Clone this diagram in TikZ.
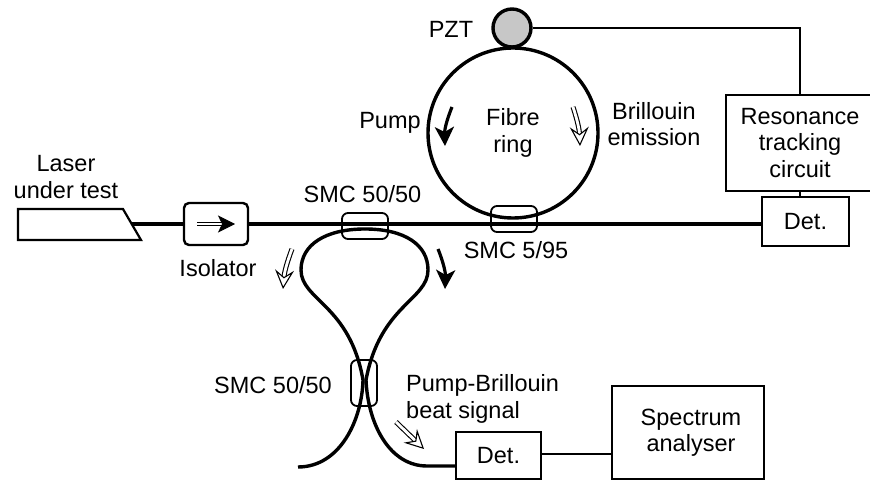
\documentclass[tikz,border=0pt]{standalone}
\usepackage{fontspec}
\setmainfont{Liberation Sans}
\usetikzlibrary{arrows.meta}

\begin{document}
\begin{tikzpicture}[
    x=1pt, y=-1pt,
    >=Stealth,
    txt/.style={inner sep=0pt, align=center, font=\fontsize{23.5}{26.5}\selectfont},
    box/.style={txt, rectangle, draw, line width=2.4pt},
    coupler/.style={rectangle, draw, rounded corners=6pt, line width=1.8pt, inner sep=0pt},
    fibre/.style={line width=3.4pt},
    wire/.style={line width=2.2pt},
    pumparrow/.style={-{Stealth[length=19pt, width=19pt, inset=5pt]}, line width=3.2pt},
    brillarrow/.style={-{Stealth[length=19pt, width=19pt, inset=7pt, open, fill=white, line width=1.1pt]},
                       line width=1.1pt, double=white, double distance=2.8pt}
]
  \useasboundingbox (0, 0) rectangle (870, 481);

  % Ring and piezo
  \node[txt, circle, draw, line width=3.4pt, minimum size=170pt] (ring) at (513, 133) {Fibre\\ring};
  \node[circle, draw, fill=black!22, line width=3.4pt, minimum size=38pt, inner sep=0pt] (pzt) at (512, 28) {};

  % Laser
  \draw[line width=2.2pt] (18, 209) -- (123, 209) -- (141, 240) -- (18, 240) -- cycle;
  \coordinate (laserend) at (132, 224);

  % Boxes
  \node[box, rounded corners=5pt, minimum width=64pt, minimum height=42pt] (isolator) at (216, 224) {};
  \node[box, minimum width=148pt, minimum height=96pt] (tracking) at (800, 143) {Resonance\\tracking\\circuit};
  \node[box, minimum width=87pt, minimum height=49pt] (dettop) at (805.5, 221.5) {Det.};
  \node[box, minimum width=85pt, minimum height=47pt] (detbeat) at (498.5, 455.5) {Det.};
  \node[box, minimum width=152pt, minimum height=93pt] (spectrum) at (688, 432.5) {\hspace{6pt}Spectrum\\\hspace{6pt}analyser};

  % Couplers
  \node[coupler, minimum width=46pt, minimum height=26pt] (smcsplit) at (365, 226) {};
  \node[coupler, minimum width=46pt, minimum height=26pt] (smcring) at (514, 219) {};
  \node[coupler, minimum width=26pt, minimum height=46pt] (smcbeat) at (364, 383) {};

  % Straight fibre
  \draw[fibre] (laserend) -- (isolator.west);
  \draw[fibre] (isolator.east) -- (isolator.east -| dettop.west);

  % Loop, both halves run through the lower coupler
  \coordinate (looptop) at (365, 229);
  \coordinate (loopend) at (298, 467);
  \draw[fibre] (looptop) .. controls (325, 229) and (301, 245) .. (301, 270)
    .. controls (301, 300) and (350, 305) .. (363, 380)
    .. controls (362, 420) and (340, 467) .. (loopend);
  \draw[fibre] (looptop) .. controls (405, 229) and (428, 245) .. (428, 270)
    .. controls (428, 300) and (380, 305) .. (366, 380)
    .. controls (368, 425) and (390, 466) .. (427, 466) -- (detbeat.west |- 0, 466);

  % Electrical lines
  \draw[wire] (pzt.east) -- (pzt.east -| tracking.north) -- (tracking.north);
  \draw[wire] (tracking.south) -- (tracking.south |- dettop.north);
  \draw[wire] (detbeat.east |- 0, 454) -- (spectrum.west |- 0, 454);

  % Arrows for pump and Brillouin light
  \coordinate (pumpa) at (452, 107);
  \coordinate (pumpb) at (445, 146);
  \coordinate (pumpc) at (438, 249);
  \coordinate (pumpd) at (445, 289);
  \coordinate (brilla) at (573, 107);
  \coordinate (brillb) at (580, 146);
  \coordinate (brillc) at (292, 249);
  \coordinate (brilld) at (283, 289);
  \coordinate (beata) at (396, 422);
  \coordinate (beatb) at (424, 449);
  \coordinate (isoa) at (197, 224);
  \coordinate (isob) at (235, 224);
  \draw[pumparrow] (pumpa) to[bend right=12] (pumpb);
  \draw[pumparrow] (pumpc) to[bend left=12] (pumpd);
  \draw[brillarrow] (brilla) to[bend left=8] (brillb);
  \draw[brillarrow] (brillc) to[bend right=8] (brilld);
  \draw[brillarrow] (beata) -- (beatb);
  \draw[-{Stealth[length=17pt, width=17pt, inset=4pt]}, line width=0.9pt, double, double distance=2pt] (isoa) -- (isob);

  % Labels
  \node[txt] (lasertxt) at (66, 177) {Laser\\under test};
  \node[txt] (isotxt) at (218, 268) {Isolator};
  \node[txt] (smcsplittxt) at (362.5, 194) {SMC 50/50};
  \node[txt] (smcringtxt) at (516, 250) {SMC 5/95};
  \node[txt] (smcbeattxt) at (273, 385) {SMC 50/50};
  \node[txt] (pzttxt) at (451, 29) {PZT};
  \node[txt] (pumptxt) at (390, 123) {Pump};
  \node[txt] (brilltxt) at (654, 124) {Brillouin\\emission};
  \node[txt, align=left, anchor=west] (beattxt) at (406, 399) {Pump-Brillouin\\beat signal};
\end{tikzpicture}
\end{document}
